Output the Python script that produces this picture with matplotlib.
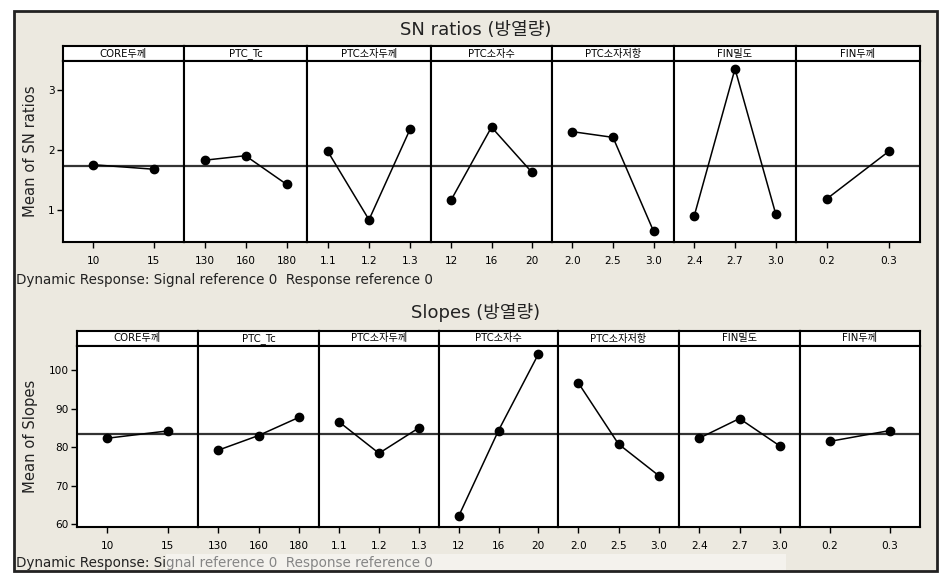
import matplotlib
matplotlib.use("Agg")
import matplotlib.pyplot as plt
from matplotlib.patches import Rectangle

W, H = 943, 576

factors = ["CORE두께", "PTC_Tc", "PTC소자두께", "PTC소자수", "PTC소자저항", "FIN밀도", "FIN두께"]
levels = [
    ["10", "15"],
    ["130", "160", "180"],
    ["1.1", "1.2", "1.3"],
    ["12", "16", "20"],
    ["2.0", "2.5", "3.0"],
    ["2.4", "2.7", "3.0"],
    ["0.2", "0.3"],
]
sn_means = [
    [1.755, 1.68],
    [1.83, 1.905, 1.43],
    [1.98, 0.84, 2.355],
    [1.17, 2.38, 1.63],
    [2.305, 2.21, 0.645],
    [0.91, 3.35, 0.94],
    [1.19, 1.98],
]
slope_means = [
    [82.3, 84.2],
    [79.2, 83.0, 87.7],
    [86.55, 78.4, 85.0],
    [62.2, 84.3, 104.0],
    [96.7, 80.8, 72.6],
    [82.3, 87.4, 80.3],
    [81.5, 84.3],
]
sn_grand = 1.74
slope_grand = 83.4
sn_yticks = [1, 2, 3]
slope_yticks = [60, 70, 80, 90, 100]

BG = "#ECE9E0"
plt.rcParams["font.family"] = ["DejaVu Sans", "Noto Sans CJK KR"]


def box(x0, y0, x1, y1):
    return [x0 / W, 1 - y1 / H, (x1 - x0) / W, (y1 - y0) / H]


def draw_row(fig, edges, strip_top, plot_top, plot_bot, means, grand, ylim, yticks, ylabel, title, title_y, ylabel_x):
    fig.text(476 / W, 1 - title_y / H, title, ha="center", va="center", fontsize=13, color="#222222")
    for i, name in enumerate(factors):
        x0, x1 = edges[i], edges[i + 1]
        sax = fig.add_axes(box(x0, strip_top, x1, plot_top))
        sax.set_facecolor("white")
        sax.set_xticks([])
        sax.set_yticks([])
        for s in sax.spines.values():
            s.set_linewidth(1.5)
        sax.text(0.5, 0.5, name, ha="center", va="center", fontsize=7.3, transform=sax.transAxes)

        ax = fig.add_axes(box(x0, plot_top, x1, plot_bot))
        ax.set_facecolor("white")
        n = len(levels[i])
        xs = list(range(1, n + 1))
        ax.axhline(grand, color="#333333", lw=1.6, zorder=1)
        ax.plot(xs, means[i], color="black", lw=1.1, marker="o", ms=6, zorder=3)
        ax.set_xlim(0.5, n + 0.5)
        ax.set_ylim(*ylim)
        ax.set_xticks(xs)
        ax.set_xticklabels(levels[i], fontsize=7.6)
        ax.tick_params(axis="x", length=4, width=1, pad=6)
        if i == 0:
            ax.set_yticks(yticks)
            ax.set_yticklabels([str(t) for t in yticks], fontsize=7.6)
            ax.tick_params(axis="y", length=4, width=1, pad=2)
        else:
            ax.set_yticks([])
        for s in ax.spines.values():
            s.set_linewidth(1.5)
    ymid = (plot_top + plot_bot) / 2
    fig.text(ylabel_x / W, 1 - ymid / H, ylabel, rotation=90, ha="center", va="center", fontsize=10.6, color="#222222")


def main():
    fig = plt.figure(figsize=(W / 100, H / 100), dpi=100)
    fig.patch.set_facecolor("white")
    fig.patches.append(Rectangle((14 / W, 1 - 571 / H), (937 - 14) / W, (571 - 11) / H,
                                 transform=fig.transFigure, facecolor=BG, edgecolor="#222222", lw=2, zorder=-1))

    draw_row(fig, [63, 184, 307, 431, 552, 674, 796, 920], 46, 61, 242,
             sn_means, sn_grand, (0.47, 3.48), sn_yticks, "Mean of SN ratios", "SN ratios (방열량)", 30, 31)
    draw_row(fig, [77, 198, 319, 439, 558, 679, 800, 920], 331, 346, 527,
             slope_means, slope_grand, (59.3, 106.2), slope_yticks, "Mean of Slopes", "Slopes (방열량)", 313, 31)

    note = "Dynamic Response: Signal reference 0  Response reference 0"
    fig.text(16 / W, 1 - 280 / H, note, ha="left", va="center", fontsize=9.75, color="#222222")
    fig.text(16 / W, 1 - 563 / H, note, ha="left", va="center", fontsize=9.75, color="#222222")
    fig.patches.append(Rectangle((166 / W, 1 - 570 / H), (786 - 166) / W, (570 - 554) / H,
                                 transform=fig.transFigure, facecolor="white", edgecolor="none", alpha=0.45, zorder=5))

    fig.savefig("out.png", dpi=100, facecolor="white")


if __name__ == "__main__":
    main()
